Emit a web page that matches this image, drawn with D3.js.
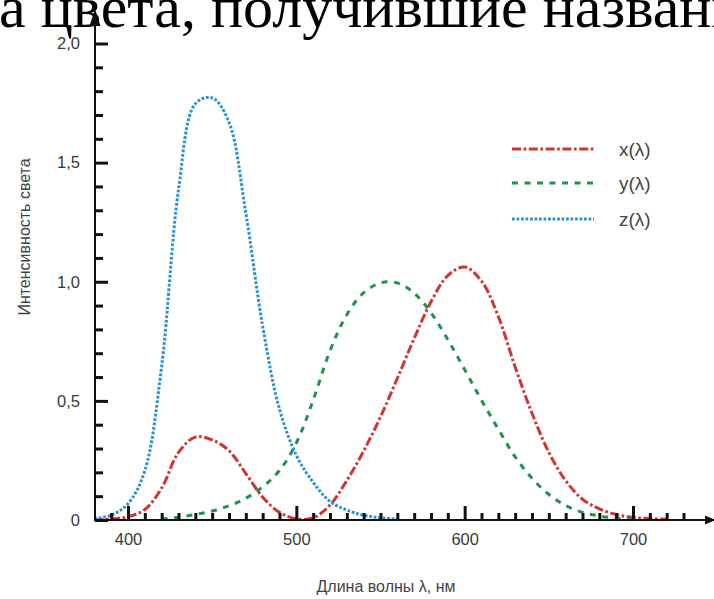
<!DOCTYPE html>
<html>
<head>
<meta charset="utf-8">
<script src="https://cdn.jsdelivr.net/npm/d3@7/dist/d3.min.js"></script>
<style>
  html, body { margin: 0; padding: 0; background: #fff; }
  svg { display: block; }
</style>
</head>
<body>
<svg id="chart" width="714" height="599"></svg>
<script>
// Wavelengths, nm
const wavelengths = [380, 390, 400, 410, 420, 430, 440, 450, 460, 470, 480, 490, 500, 510, 520, 530, 540, 550, 560, 570, 580, 590, 600, 610, 620, 630, 640, 650, 660, 670, 680, 690, 700, 710, 720];
// x(λ) values
const xValues = [0.001, 0.004, 0.014, 0.044, 0.134, 0.284, 0.348, 0.336, 0.291, 0.195, 0.096, 0.032, 0.005, 0.009, 0.063, 0.166, 0.290, 0.433, 0.595, 0.762, 0.916, 1.026, 1.062, 1.003, 0.854, 0.642, 0.448, 0.284, 0.165, 0.087, 0.047, 0.023, 0.011, 0.006, 0.003];
// y(λ) values
const yValues = [null, null, null, null, 0.004, 0.012, 0.023, 0.038, 0.060, 0.091, 0.139, 0.208, 0.323, 0.503, 0.710, 0.862, 0.954, 0.995, 0.995, 0.952, 0.870, 0.757, 0.631, 0.503, 0.381, 0.265, 0.175, 0.107, 0.061, 0.032, 0.017, 0.008, 0.004, null, null];
// z(λ) values
const zValues = [0.006, 0.020, 0.068, 0.207, 0.646, 1.386, 1.747, 1.772, 1.669, 1.288, 0.813, 0.465, 0.272, 0.158, 0.078, 0.042, 0.020, 0.009, 0.004, null, null, null, null, null, null, null, null, null, null, null, null, null, null, null, null];

const seriesNames = ["x(λ)", "y(λ)", "z(λ)"];
const seriesColors = ["#d23333", "#22914d", "#2e92d2"];
const seriesDashes = ["9,2.6,2.6,2.6", "6,6.5", "2.8,1.7"];

const xMajorTicks = [400, 500, 600, 700];
const xMinorTicks = d3.range(390, 731, 10).filter(v => v % 100 !== 0);
const yMajorTicks = [0, 0.5, 1.0, 1.5, 2.0];
const yTickLabels = ["0", "0,5", "1,0", "1,5", "2,0"];
const yMinorTicks = d3.range(1, 20).filter(i => i % 5 !== 0).map(i => i / 10);

const headingText = "а цвета, получившие названи";
const xTitle = "Длина волны λ, нм";
const yTitle = "Интенсивность света";

const svg = d3.select("#chart");

const x = d3.scaleLinear().domain([400, 700]).range([128, 633]);
const y = d3.scaleLinear().domain([0, 2]).range([520, 43.5]);
const originX = 95;
const originY = y(0);

// Line of page text running above the figure
svg.append("text")
  .attr("x", -1)
  .attr("y", 27)
  .attr("font-family", "'Liberation Serif', 'DejaVu Serif', serif")
  .attr("font-size", 60)
  .attr("fill", "#000")
  .text(headingText);

// Curves
const valueSets = [xValues, yValues, zValues];
const line = d3.line()
  .defined(d => d[1] !== null)
  .x(d => x(d[0]))
  .y(d => y(d[1]))
  .curve(d3.curveCatmullRom.alpha(0.5));

valueSets.forEach((vals, i) => {
  const pts = wavelengths.map((w, k) => [w, vals[k]]);
  svg.append("path")
    .datum(pts)
    .attr("fill", "none")
    .attr("stroke", seriesColors[i])
    .attr("stroke-width", 3)
    .attr("stroke-dasharray", seriesDashes[i])
    .attr("d", line);
});

// X axis ticks (pointing up, inside the plot)
const gxMinor = svg.append("g")
  .attr("transform", `translate(0,${originY})`)
  .call(d3.axisTop(x).tickValues(xMinorTicks).tickSize(7).tickFormat(""));
const gxMajor = svg.append("g")
  .attr("transform", `translate(0,${originY})`)
  .call(d3.axisTop(x).tickValues(xMajorTicks).tickSize(14).tickFormat(""));
[gxMinor, gxMajor].forEach(g => {
  g.select(".domain").remove();
  g.selectAll(".tick line").attr("stroke", "#111").attr("stroke-width", 3);
});

// X tick labels
const gxLab = svg.append("g")
  .attr("transform", `translate(0,${originY})`)
  .call(d3.axisBottom(x).tickValues(xMajorTicks).tickSize(0).tickPadding(13).tickFormat(d3.format("d")));
gxLab.select(".domain").remove();
gxLab.selectAll("text")
  .attr("font-family", "'Liberation Sans', Arial, sans-serif")
  .attr("font-size", 16.5)
  .attr("fill", "#3a3a3a");

// Y axis ticks (pointing right, inside the plot)
const gyMinor = svg.append("g")
  .attr("transform", `translate(${originX},0)`)
  .call(d3.axisRight(y).tickValues(yMinorTicks).tickSize(8).tickFormat(""));
const gyMajor = svg.append("g")
  .attr("transform", `translate(${originX},0)`)
  .call(d3.axisRight(y).tickValues(yMajorTicks).tickSize(13).tickFormat(""));
[gyMinor, gyMajor].forEach(g => {
  g.select(".domain").remove();
  g.selectAll(".tick line").attr("stroke", "#111").attr("stroke-width", 3);
});

// Y tick labels
const gyLab = svg.append("g")
  .attr("transform", `translate(${originX},0)`)
  .call(d3.axisLeft(y).tickValues(yMajorTicks).tickSize(0).tickPadding(15)
    .tickFormat((d, i) => yTickLabels[i]));
gyLab.select(".domain").remove();
gyLab.selectAll("text")
  .attr("font-family", "'Liberation Sans', Arial, sans-serif")
  .attr("font-size", 16.5)
  .attr("fill", "#3a3a3a");

// Axis lines with arrowheads
svg.append("line")
  .attr("x1", originX).attr("y1", originY + 1)
  .attr("x2", originX).attr("y2", 20)
  .attr("stroke", "#111").attr("stroke-width", 2);
svg.append("path")
  .attr("d", `M${originX},9 L${originX - 5.5},26 L${originX + 5.5},26 Z`)
  .attr("fill", "#111");
svg.append("line")
  .attr("x1", originX - 1).attr("y1", originY)
  .attr("x2", 708).attr("y2", originY)
  .attr("stroke", "#111").attr("stroke-width", 2);
svg.append("path")
  .attr("d", `M716,${originY} L705,${originY - 4.5} L705,${originY + 4.5} Z`)
  .attr("fill", "#111");

// Axis titles
svg.append("text")
  .attr("x", 386)
  .attr("y", 592)
  .attr("text-anchor", "middle")
  .attr("font-family", "'Liberation Sans', Arial, sans-serif")
  .attr("font-size", 16)
  .attr("fill", "#444")
  .text(xTitle);

svg.append("text")
  .attr("transform", "translate(30,237) rotate(-90)")
  .attr("text-anchor", "middle")
  .attr("font-family", "'Liberation Sans', Arial, sans-serif")
  .attr("font-size", 16)
  .attr("fill", "#444")
  .text(yTitle);

// Legend
const legendRows = [149, 183, 219];
seriesNames.forEach((name, i) => {
  const g = svg.append("g").attr("transform", `translate(0,${legendRows[i]})`);
  g.append("line")
    .attr("x1", 512).attr("x2", 594)
    .attr("y1", 0).attr("y2", 0)
    .attr("stroke", seriesColors[i])
    .attr("stroke-width", 3)
    .attr("stroke-dasharray", seriesDashes[i]);
  g.append("text")
    .attr("x", 619)
    .attr("y", 0)
    .attr("dy", "0.35em")
    .attr("font-family", "'Liberation Sans', Arial, sans-serif")
    .attr("font-size", 19)
    .attr("fill", "#444")
    .text(name);
});
</script>
</body>
</html>
